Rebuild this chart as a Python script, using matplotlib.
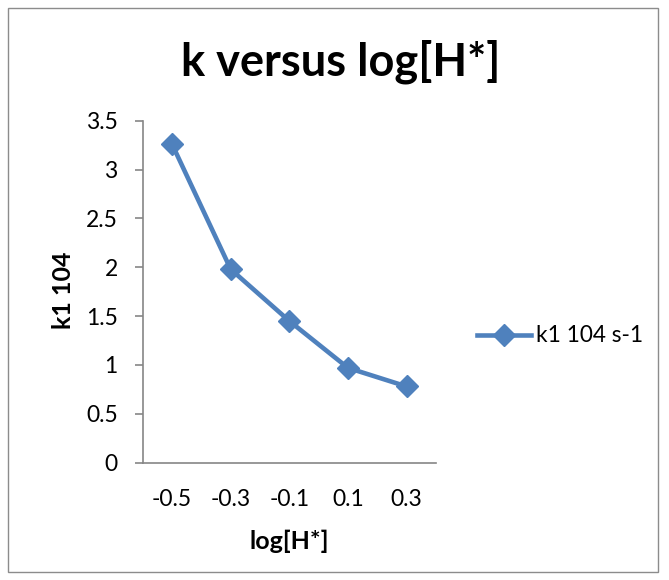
import matplotlib
matplotlib.use("Agg")
import matplotlib.pyplot as plt
from matplotlib.patches import Rectangle

categories = ["-0.5", "-0.3", "-0.1", "0.1", "0.3"]
k_values = [3.26, 1.98, 1.45, 0.97, 0.78]
series_name = "k1 104 s-1"
title = "k versus log[H*]"
xlabel = "log[H*]"
ylabel = "k1 104"
yticks = [0, 0.5, 1, 1.5, 2, 2.5, 3, 3.5]
ytick_labels = ["0", "0.5", "1", "1.5", "2", "2.5", "3", "3.5"]

plt.rcParams['font.family'] = ['Lato', 'DejaVu Sans']
W, H = 669, 580
fig = plt.figure(figsize=(W / 100, H / 100), dpi=100)
fig.patch.set_facecolor("white")

# chart border
fig.add_artist(Rectangle((8 / W, 1 - 572 / H), 650 / W, 564 / H, transform=fig.transFigure,
                         fill=False, edgecolor="#8c8c8c", linewidth=1.0))

ax_l, ax_r, ax_t, ax_b = 142.7, 436.0, 120.7, 462.7
ax = fig.add_axes([ax_l / W, 1 - ax_b / H, (ax_r - ax_l) / W, (ax_b - ax_t) / H])
xpos = list(range(len(categories)))
color = "#4F81BD"
ax.plot(xpos, k_values, color=color, linewidth=3.3, marker="D", markersize=11,
        markeredgecolor=color, markerfacecolor=color, label=series_name, solid_joinstyle="round")

ax.set_xlim(-0.5, len(categories) - 0.5)
ax.set_ylim(0, 3.5)
ax.set_yticks(yticks)
ax.set_yticklabels(ytick_labels)
ax.set_xticks(xpos)
ax.set_xticklabels(categories)

for s in ["top", "right"]:
    ax.spines[s].set_visible(False)
for s in ["left", "bottom"]:
    ax.spines[s].set_color("#868686")
    ax.spines[s].set_linewidth(1.2)
ax.tick_params(axis="y", direction="out", length=6, width=1.2, color="#868686",
               labelsize=16.5, labelcolor="black", pad=12)
ax.tick_params(axis="x", length=0, labelsize=16.5, labelcolor="black", pad=19)

ax.set_xlabel(xlabel, fontsize=18, fontweight="bold", va="center", ha="center")
ax.set_ylabel(ylabel, fontsize=18, fontweight="bold", va="center", ha="center")
ax.xaxis.set_label_coords((289 - ax_l) / (ax_r - ax_l), (ax_b - 541) / (ax_b - ax_t))
ax.yaxis.set_label_coords((63 - ax_l) / (ax_r - ax_l), (ax_b - 290) / (ax_b - ax_t))

fig.text(341 / W, 1 - 62 / H, title, ha="center", va="center", fontsize=32.5, fontweight="bold")

leg = ax.legend(loc="center left", bbox_to_anchor=(477 / W, 1 - 336 / H),
                bbox_transform=fig.transFigure, frameon=False, fontsize=16.3,
                handlelength=2.4, handletextpad=0.2, borderpad=0, borderaxespad=0)

fig.savefig("out.png", dpi=100)
